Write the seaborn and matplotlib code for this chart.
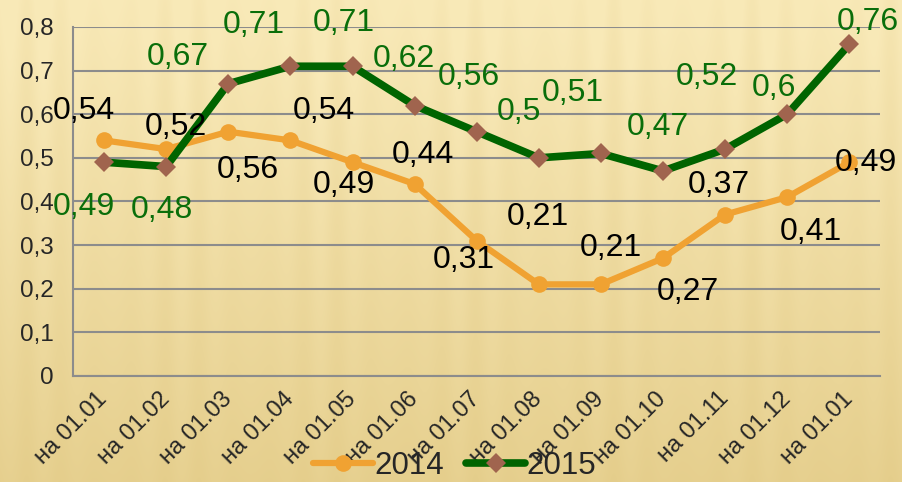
import numpy as np
import matplotlib.pyplot as plt
import seaborn as sns

months = ["на 01.01", "на 01.02", "на 01.03", "на 01.04", "на 01.05", "на 01.06",
          "на 01.07", "на 01.08", "на 01.09", "на 01.10", "на 01.11", "на 01.12", "на 01.01"]
y2014 = [0.54, 0.52, 0.56, 0.54, 0.49, 0.44, 0.31, 0.21, 0.21, 0.27, 0.37, 0.41, 0.49]
y2015 = [0.49, 0.48, 0.67, 0.71, 0.71, 0.62, 0.56, 0.5, 0.51, 0.47, 0.52, 0.6, 0.76]
yticks = [0, 0.1, 0.2, 0.3, 0.4, 0.5, 0.6, 0.7, 0.8]

# label offsets in pixels (dx, dy) relative to each point
off2014 = [(-20, 29), (10, 22), (20, -38), (33, 29), (-9, -23), (8, 29), (-13, -19),
           (-1, 67), (10, 36), (25, -34), (-6, 30), (24, -35), (17, -1)]
off2015 = [(-20, -45), (-4, -43), (-50, 27), (-37, 41), (-9, 43), (-11, 47), (-8, 55),
           (-20, 46), (-28, 60), (-5, 44), (-18, 72), (-13, 26), (19, 22)]

sns.set_style("white")
plt.rcParams["font.family"] = ["Liberation Sans", "DejaVu Sans"]

fig = plt.figure(figsize=(9.02, 4.82), dpi=100)

# textured beige background
bg = fig.add_axes([0, 0, 1, 1], zorder=-10)
h, w = 482, 902
xx = np.arange(w)[None, :]
yy = np.arange(h)[:, None] / h
stripes = 0.5 + 0.5 * np.sin(xx / 5.5) * (0.6 + 0.4 * np.sin(xx / 23.0))
top = np.array([0.975, 0.915, 0.72])
bot = np.array([0.885, 0.79, 0.52])
t = np.clip(0.12 + 0.75 * yy - 0.25 * stripes * (1 - 0.6 * yy), 0, 1)
img = top[None, None, :] * (1 - t[..., None]) + bot[None, None, :] * t[..., None]
bg.imshow(img, aspect="auto", extent=[0, 1, 0, 1])
bg.axis("off")

ax = fig.add_axes([0.081, 0.22, 0.895, 0.724])
ax.patch.set_alpha(0)
pos = np.arange(len(months))

sns.lineplot(x=pos, y=y2014, ax=ax, color="#f0a232", lw=4.5, marker="o",
             markersize=12, markeredgewidth=0, label="2014", legend=False, zorder=3)
sns.lineplot(x=pos, y=y2015, ax=ax, color="#006400", lw=5.5, marker="D",
             markersize=10, markerfacecolor="#a0644e", markeredgewidth=0,
             label="2015", legend=False, zorder=4)

for i, v in enumerate(y2014):
    ax.annotate(str(v).replace(".", ","), (pos[i], v), xytext=off2014[i],
                textcoords="offset pixels", ha="center", va="center",
                fontsize=23, color="black", zorder=6, annotation_clip=False)
for i, v in enumerate(y2015):
    ax.annotate(str(v).replace(".", ","), (pos[i], v), xytext=off2015[i],
                textcoords="offset pixels", ha="center", va="center",
                fontsize=23, color="#0a6e0a", zorder=6, annotation_clip=False)

ax.set_xlim(-0.5, len(months) - 0.5)
ax.set_ylim(0, 0.8)
ax.set_yticks(yticks)
ax.set_yticklabels([str(v).replace(".", ",") if v else "0" for v in yticks], fontsize=17.5)
ax.set_xticks(pos)
ax.set_xticklabels(months, rotation=45, ha="right", va="center",
                   rotation_mode="anchor", fontsize=17)
ax.set_xticks(np.arange(-0.5, len(months), 1), minor=True)
ax.tick_params(axis="x", which="major", length=0, pad=14)
ax.tick_params(axis="x", which="minor", length=5, width=1.5, color="#8c8c8c")
ax.tick_params(axis="y", length=5, width=1.5, color="#8c8c8c", pad=9)
ax.yaxis.grid(True, color="#8c8c8c", lw=1.5)
ax.set_axisbelow(True)
for s in ["top", "right"]:
    ax.spines[s].set_visible(False)
for s in ["left", "bottom"]:
    ax.spines[s].set_color("#8c8c8c")
    ax.spines[s].set_linewidth(1.5)
ax.set_xlabel("")
ax.set_ylabel("")

fig.legend(handles=ax.lines[:2], labels=["2014", "2015"], loc="center",
           bbox_to_anchor=(455 / 902, 1 - 466 / 482), ncol=2, frameon=False,
           fontsize=22.5, handlelength=1.9, handletextpad=0.05, columnspacing=0.7)

fig.savefig("out.png", dpi=100)
